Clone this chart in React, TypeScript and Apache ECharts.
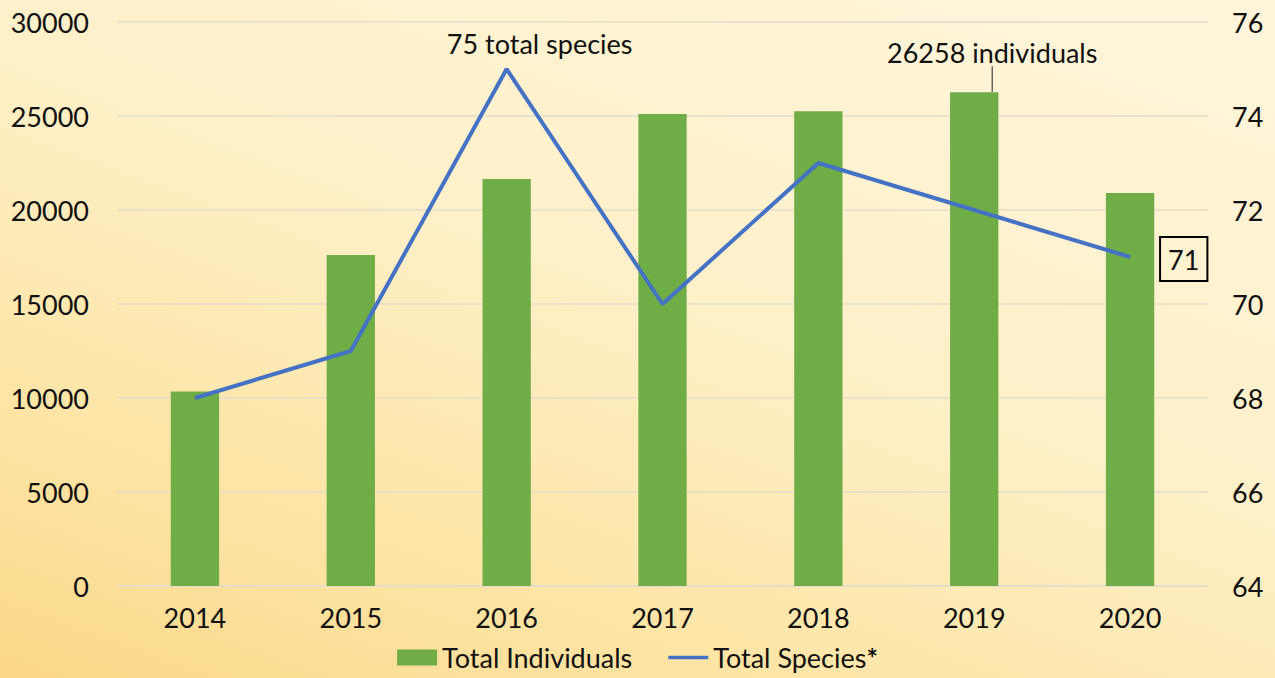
import React, { useEffect, useRef } from "react";
import * as echarts from "echarts";

const years = ["2014", "2015", "2016", "2017", "2018", "2019", "2020"];
const totalIndividuals = [10350, 17600, 21650, 25100, 25250, 26258, 20900];
const totalSpecies = [68, 69, 75, 70, 73, 72, 71];
const leftTicks = { min: 0, max: 30000, interval: 5000 };
const rightTicks = { min: 64, max: 76, interval: 2 };
// annotated points on the species line (index -> label template)
const speciesNotes: Record<number, string> = { 2: "{c} total species", 6: "{c}" };
const individualsNoteIndex = 5;

const FONT = "Lato";
const FS = 27;

export default function App() {
  const ref = useRef<HTMLDivElement>(null);
  useEffect(() => {
    if (!ref.current) return;
    const chart = echarts.init(ref.current, null, { renderer: "svg" });
    const axisLabel = { color: "#111", fontSize: FS, fontFamily: FONT };
    chart.setOption({
      animation: false,
      backgroundColor: "transparent",
      textStyle: { fontFamily: FONT },
      grid: { left: 117, right: 67, top: 22, bottom: 92, containLabel: false },
      legend: {
        bottom: 2,
        left: "center",
        itemWidth: 40,
        itemHeight: 16,
        itemGap: 36,
        textStyle: {
          fontSize: FS,
          color: "#111",
          fontFamily: FONT,
          rich: { b: { fontSize: FS, fontWeight: "bold", color: "#111", fontFamily: FONT } },
        },
        formatter: (name: string) =>
          name.endsWith("*") ? name.slice(0, -1) + "{b|*}" : name,
        data: [
          { name: "Total Individuals", icon: "rect" },
          { name: "Total Species*", icon: "path://M0,0 L40,0 L40,3.5 L0,3.5 Z" },
        ],
      },
      xAxis: {
        type: "category",
        data: years,
        axisLine: { show: true, lineStyle: { color: "#e3dccb", width: 1.5 } },
        axisTick: { show: false },
        axisLabel: { ...axisLabel, margin: 18 },
      },
      yAxis: [
        {
          type: "value",
          ...leftTicks,
          axisLabel: { ...axisLabel, margin: 28, formatter: (v: number) => String(v) },
          splitLine: { lineStyle: { color: "#e3dccb", width: 1.5 } },
          axisLine: { show: false },
          axisTick: { show: false },
        },
        {
          type: "value",
          position: "right",
          ...rightTicks,
          axisLabel: { ...axisLabel, margin: 24, formatter: (v: number) => String(v) },
          splitLine: { show: false },
          axisLine: { show: false },
          axisTick: { show: false },
        },
      ],
      series: [
        {
          name: "Total Individuals",
          type: "bar",
          yAxisIndex: 0,
          barWidth: "31%",
          itemStyle: { color: "#70AD47" },
          data: totalIndividuals.map((v, i) =>
            i === individualsNoteIndex
              ? {
                  value: v,
                  label: {
                    show: true,
                    position: "top",
                    formatter: "{c} individuals",
                    fontSize: FS,
                    color: "#111",
                    fontFamily: FONT,
                    distance: 4,
                  },
                  labelLine: { show: true, lineStyle: { color: "#444", width: 1.2 } },
                }
              : v
          ),
          labelLayout: (p: any) =>
            p.dataIndex === individualsNoteIndex ? { dx: 18, dy: -22 } : {},
        },
        {
          name: "Total Species*",
          type: "line",
          yAxisIndex: 1,
          symbol: "none",
          lineStyle: { color: "#4472C4", width: 4 },
          itemStyle: { color: "#4472C4" },
          data: totalSpecies,
        },
        {
          name: "notes",
          type: "scatter",
          yAxisIndex: 1,
          symbolSize: 0,
          silent: true,
          z: 5,
          itemStyle: { opacity: 1, color: "transparent" },
          data: totalSpecies.map((v, i) => {
            if (i === 2)
              return {
                value: v,
                label: {
                  show: true,
                  position: "top",
                  distance: 12,
                  offset: [33, 0],
                  formatter: speciesNotes[i],
                  fontSize: FS,
                  color: "#111",
                  fontFamily: FONT,
                },
              };
            if (i === 6)
              return {
                value: v,
                label: {
                  show: true,
                  position: "right",
                  distance: 30,
                  offset: [0, 2],
                  formatter: speciesNotes[i],
                  fontSize: FS,
                  color: "#111",
                  fontFamily: FONT,
                  borderColor: "#000",
                  borderWidth: 2,
                  padding: [10, 8, 7, 8],
                },
              };
            return { value: null };
          }),
        },
      ],
    });
    return () => chart.dispose();
  }, []);
  return (
    <div
      style={{
        position: "fixed",
        left: 0,
        top: 0,
        width: 1275,
        height: 678,
        background:
          "linear-gradient(20deg, #fbd88a 0%, #fde5a6 25%, #fef0c8 55%, #fef5dc 100%)",
      }}
    >
      <div ref={ref} style={{ width: 1275, height: 678 }} />
    </div>
  );
}
